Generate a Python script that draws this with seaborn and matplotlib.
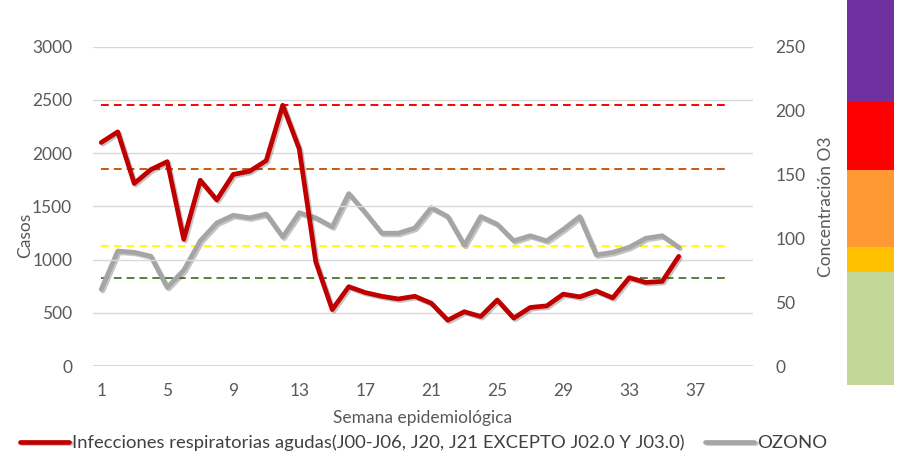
import numpy as np
import pandas as pd
import matplotlib.pyplot as plt
import seaborn as sns
from matplotlib import patheffects as pe

# DATA

weeks = list(range(1, 37))

casos = [2100, 2200, 1715, 1845, 1920, 1190, 1745, 1560, 1800, 1830,
         1930, 2450, 2040, 980, 530, 745, 690, 655, 630, 655,
         590, 430, 510, 465, 620, 450, 550, 565, 675, 650,
         705, 640, 830, 785, 795, 1030]

ozono = [60, 90, 89, 86, 61.5, 75, 98, 112, 118, 116,
         119, 101, 120, 116, 109, 135, 120, 104, 104, 108,
         124, 117, 94.5, 117, 111, 98, 102, 98, 107, 117,
         87, 89, 93, 100, 102, 93]

# ozone index thresholds (right axis) and their dashed line colours
umbrales = [69, 94, 154, 204]
umbral_colores = ['#548235', '#FFFF00', '#C55A11', '#FF0000']

# colour scale at the right edge
banda_limites = [-15, 74, 93, 154, 207, 287]
banda_colores = ['#C4D79B', '#FFC000', '#FF9933', '#FF0000', '#7030A0']

x_ticks = [1, 5, 9, 13, 17, 21, 25, 29, 33, 37]

serie_casos = 'Infecciones respiratorias agudas(J00-J06, J20, J21 EXCEPTO J02.0 Y J03.0)'
serie_ozono = 'OZONO'

df = pd.DataFrame({'semana': weeks, 'casos': casos, 'ozono': ozono})

# STYLE

sns.set_theme(style='white')
plt.rcParams['font.family'] = ['Lato', 'DejaVu Sans']

txt = '#595959'

fig = plt.figure(figsize=(9.05, 4.61), dpi=100)
fig.patch.set_facecolor('white')

ax = fig.add_axes([93 / 905, 1 - 366 / 461, 660 / 905, 319.3 / 461])
ax2 = ax.twinx()

# red series should sit on top of the ozone axis
ax.set_zorder(ax2.get_zorder() + 1)
ax.patch.set_visible(False)

# ozone thresholds + ozone line on the right axis
for u, c in zip(umbrales, umbral_colores):
    ax2.hlines(u, 1, 39, colors=c, linestyles=(0, (4, 2.6)), linewidth=1.4, zorder=1)

sns.lineplot(data=df, x='semana', y='ozono', ax=ax2, color='#A5A5A5',
             linewidth=3.4, zorder=3,
             path_effects=[pe.SimpleLineShadow(offset=(1.2, -1.2), alpha=0.25), pe.Normal()])

sns.lineplot(data=df, x='semana', y='casos', ax=ax, color='#C00000',
             linewidth=3.4, zorder=4,
             path_effects=[pe.SimpleLineShadow(offset=(1.2, -1.2), alpha=0.25), pe.Normal()])

# AXES

ax.set_xlim(0.5, 40.5)
ax.set_ylim(0, 3000)
ax2.set_ylim(0, 250)

ax.set_yticks([0, 500, 1000, 1500, 2000, 2500, 3000])
ax2.set_yticks([0, 50, 100, 150, 200, 250])
ax.set_xticks(x_ticks)

ax.grid(axis='y', color='#D9D9D9', linewidth=1)
ax.grid(axis='x', visible=False)
ax2.grid(False)

for a in (ax, ax2):
    for s in a.spines.values():
        s.set_visible(False)

ax.axhline(0, color='#D0D0D0', linewidth=1.2, zorder=0)

ax.tick_params(axis='y', length=0, pad=15, labelsize=12.5, labelcolor=txt)
ax.tick_params(axis='x', length=0, pad=12, labelsize=12.5, labelcolor=txt)
ax2.tick_params(axis='y', length=0, pad=16, labelsize=12.5, labelcolor=txt)

ax.set_xlabel('Semana epidemiológica', fontsize=12.5, color=txt, labelpad=8)
ax.set_ylabel('Casos', fontsize=12.5, color=txt)
ax.yaxis.set_label_coords(-0.091, 0.41)
ax2.set_ylabel('Concentración O3', fontsize=12.5, color=txt)
ax2.yaxis.set_label_coords(1.098, 0.50)

# LEGEND

h1 = ax.get_lines()[0]
h2 = ax2.get_lines()[0]
fig.legend([h1, h2], [serie_casos, serie_ozono], loc='center',
           bbox_to_anchor=(0.468, 1 - 443 / 461), ncol=2, frameon=False,
           handlelength=2.65, handletextpad=0.15, columnspacing=1.1,
           fontsize=13.3, labelcolor='#404040')

# COLOUR SCALE BAR

cax = fig.add_axes([847 / 905, 1 - 385 / 461, 47 / 905, 385 / 461])
cax.bar([0] * len(banda_colores), np.diff(banda_limites), bottom=banda_limites[:-1],
        color=banda_colores, width=1.0, linewidth=0)
cax.set_xlim(-0.5, 0.5)
cax.set_ylim(banda_limites[0], banda_limites[-1])
cax.axis('off')

fig.savefig('out.png', dpi=100, facecolor='white')
